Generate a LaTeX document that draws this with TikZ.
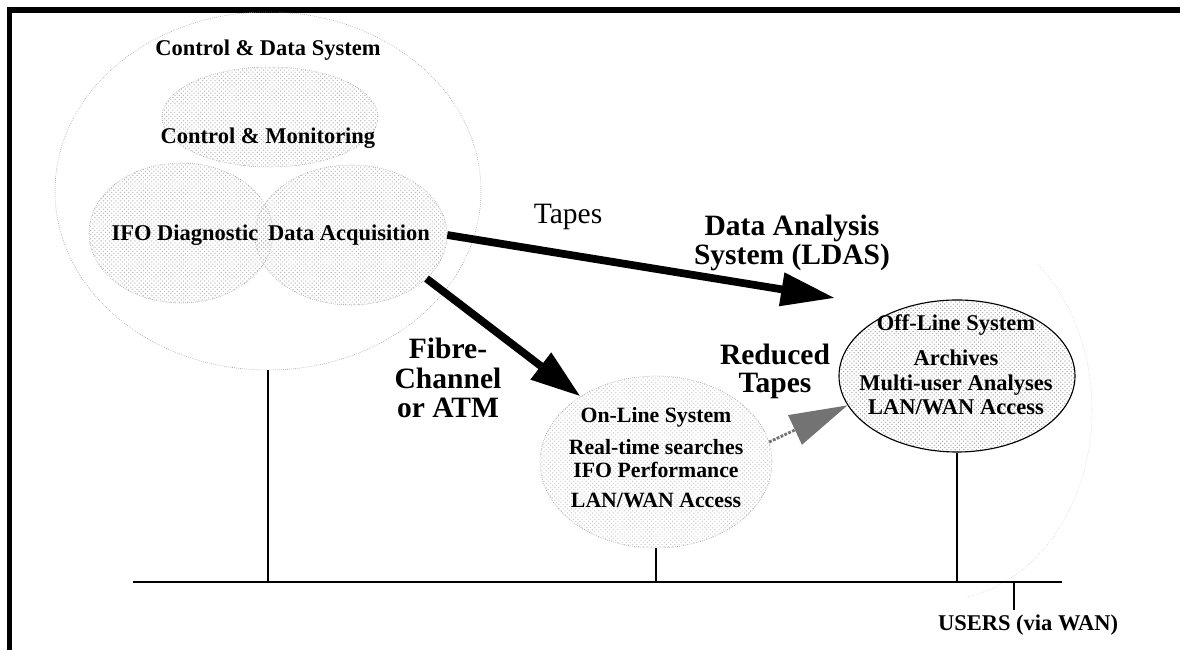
\documentclass[tikz,border=0pt]{standalone}
\usepackage{fontspec}
\setmainfont{Liberation Serif}
\usetikzlibrary{shapes.geometric,patterns,arrows.meta}

\begin{document}
\begin{tikzpicture}[
    blob/.style={ellipse, draw=gray!90, densely dotted, pattern=crosshatch dots, pattern color=gray!55, inner sep=0pt},
    txt/.style={font=\fontsize{16}{17.4}\selectfont\bfseries, align=center},
    bigtxt/.style={font=\fontsize{21}{21}\selectfont\bfseries, align=center},
    fatarrow/.style={line width=5.5pt, -{Triangle[length=1.35cm, width=0.8cm]}},
    drop/.style={line width=1.2pt}
]
    \useasboundingbox (0,0) rectangle (29.5,16.25);

    % frame
    \draw[line width=3.6pt] (0.24,0) -- (0.24,16) -- (29.5,16);

    % control & data system
    \node[ellipse, draw=gray!90, densely dotted, minimum width=10.65cm, minimum height=8.95cm] (cds) at (6.7,11.475) {};
    \node[blob, minimum width=5.4cm, minimum height=2.5cm] (mon) at (6.75,13.325) {};
    \node[blob, minimum width=4.6cm, minimum height=3.5cm] (ifo) at (4.525,10.425) {};
    \node[blob, minimum width=4.8cm, minimum height=3.5cm] (daq) at (8.775,10.375) {};
    \node[txt] (cdslabel) at (6.7,15.0) {Control \& Data System};
    \node[txt] (monlabel) at (6.7,12.8) {Control \& Monitoring};
    \node[txt] (ifolabel) at (4.625,10.375) {IFO Diagnostic};
    \node[txt] (daqlabel) at (8.725,10.375) {Data Acquisition};

    % on-line and off-line systems
    \node[blob, pattern color=gray!40, minimum width=5.8cm, minimum height=4.3cm] (online) at (16.4,4.7) {};
    \node[ellipse, draw=black, thick, pattern=crosshatch dots, pattern color=gray!70, minimum width=5.9cm, minimum height=3.8cm] (offline) at (23.925,6.85) {};
    \draw[gray!40, densely dotted] (23.5,6.0) ++(50:3.8cm and 4.75cm) arc[start angle=50, end angle=-80, x radius=3.8cm, y radius=4.75cm];
    \node[txt, font=\fontsize{15.5}{16.4}\selectfont\bfseries] (onlabel) at (16.4,4.81) {On-Line System\\[6.4pt] Real-time searches\\ IFO Performance\\[5pt] LAN/WAN Access};
    \node[txt] (offlabel) at (23.9,7.125) {Off-Line System\\[7.5pt] Archives\\ Multi-user Analyses\\ LAN/WAN Access};

    % data paths
    \coordinate (ldas) at (20.875,8.8);
    \draw[fatarrow] (daq.east) -- (ldas);
    \draw[fatarrow, -{Triangle[length=1.25cm, width=0.8cm]}] (daq.-30) -- (online.139);
    \draw[line width=2pt, black!55, densely dotted, -{Triangle[length=1.45cm, width=0.8cm]}] (online.10) -- (offline.195);
    \node[font=\fontsize{21}{21}\selectfont] (tapes) at (14.2,10.825) {Tapes};
    \node[bigtxt, font=\fontsize{21}{16.4}\selectfont\bfseries] (ldaslabel) at (19.8,10.175) {Data Analysis\\System (LDAS)};
    \node[bigtxt] (fibre) at (11.2,6.8) {Fibre-\\Channel\\or ATM};
    \node[bigtxt, font=\fontsize{21}{20}\selectfont\bfseries] (reduced) at (19.375,6.975) {Reduced\\Tapes};

    % network
    \coordinate (lanL) at (3.325,1.7);
    \coordinate (lanR) at (26.55,1.7);
    \coordinate (wan) at (25.35,1.7);
    \draw[line width=2pt] (lanL) -- (lanR);
    \draw[drop] (cds.south) -- (cds.south |- lanL);
    \draw[drop] (online.south) -- (online.south |- lanL);
    \draw[drop] (offline.south) -- (offline.south |- lanL);
    \node[txt] (users) at (25.7,0.625) {USERS (via WAN)};
    \draw[drop] (wan) -- (wan |- users.north);

\end{tikzpicture}
\end{document}
